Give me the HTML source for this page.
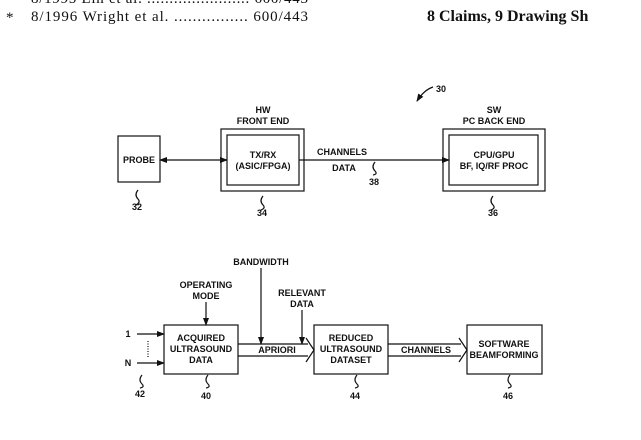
<!DOCTYPE html>
<html><head><meta charset="utf-8"><style>
body{margin:0;background:#fff;width:641px;height:435px;overflow:hidden}
svg text{font-family:"Liberation Sans",sans-serif;font-size:9px;font-weight:bold;fill:#111;text-anchor:middle}
.s{font-family:"Liberation Serif",serif;font-size:15px;font-weight:normal;text-anchor:start}
</style></head><body>
<svg width="641" height="435" viewBox="0 0 641 435">
<defs><marker id="a" markerWidth="8" markerHeight="6" refX="7" refY="3" orient="auto" markerUnits="userSpaceOnUse"><path d="M0,0 L8,3 L0,6z" fill="#111"/></marker>
<marker id="b" markerWidth="8" markerHeight="6" refX="1" refY="3" orient="auto" markerUnits="userSpaceOnUse"><path d="M8,0 L0,3 L8,6z" fill="#111"/></marker></defs>
<text class="s" x="31" y="3" textLength="277" lengthAdjust="spacing">8/1995  Lin et al.  .......................  600/443</text>
<text class="s" x="6" y="22">*</text>
<text class="s" x="31" y="21" textLength="277" lengthAdjust="spacing">8/1996  Wright et al.  ................  600/443</text>
<text class="s" x="427" y="21" style="font-weight:bold;font-size:16px">8 Claims, 9 Drawing Sh</text>
<g fill="none" stroke="#111" stroke-width="1.2">
<rect x="118" y="136" width="42" height="46"/>
<rect x="221" y="129" width="83" height="62"/><rect x="227" y="135" width="72" height="50"/>
<rect x="443" y="129" width="102" height="62"/><rect x="449" y="135" width="89" height="50"/>
<line x1="160" y1="160" x2="227" y2="160" marker-start="url(#b)" marker-end="url(#a)"/>
<line x1="299" y1="160" x2="449" y2="160" marker-end="url(#a)"/>
<path d="M433,87 Q424,90 417,101" marker-end="url(#a)"/>
<path d="M138,190 q-4,5 0,9 q3,3 -2,6"/><path d="M263,196 q-4,5 0,9 q3,3 -2,5"/><path d="M493,196 q-4,5 0,9 q3,3 -2,5"/><path d="M375,162 q-4,5 0,9 q3,3 -2,4"/>
<rect x="164" y="325" width="74" height="49"/><rect x="314" y="325" width="74" height="49"/><rect x="467" y="325" width="75" height="49"/>
<path d="M238,344 H308 M238,356 H308 M306,338 L314,350 L306,362"/>
<path d="M388,344 H461 M388,356 H461 M459,338 L467,350 L459,362"/>
<line x1="137" y1="334" x2="164" y2="334" marker-end="url(#a)"/>
<line x1="137" y1="363" x2="164" y2="363" marker-end="url(#a)"/>
<line x1="148" y1="341" x2="148" y2="357" stroke-dasharray="1,1.5"/>
<line x1="206" y1="302" x2="206" y2="325" marker-end="url(#a)"/>
<line x1="261" y1="268" x2="261" y2="344" marker-end="url(#a)"/>
<line x1="302" y1="310" x2="302" y2="344" marker-end="url(#a)"/>
<path d="M142,375 q-4,5 0,9 q3,3 -2,4"/><path d="M208,375 q-4,5 0,9 q3,3 -2,4"/><path d="M357,375 q-4,5 0,9 q3,3 -2,4"/><path d="M510,375 q-4,5 0,9 q3,3 -2,4"/>
</g>
<text x="139" y="163">PROBE</text>
<text x="263" y="113">HW</text><text x="263" y="124">FRONT END</text>
<text x="263" y="158">TX/RX</text><text x="263" y="169">(ASIC/FPGA)</text>
<text x="342" y="155">CHANNELS</text><text x="344" y="171">DATA</text>
<text x="494" y="113">SW</text><text x="494" y="124">PC BACK END</text>
<text x="494" y="158">CPU/GPU</text><text x="494" y="169">BF, IQ/RF PROC</text>
<text x="436" y="92" style="text-anchor:start">30</text>
<text x="137" y="210">32</text><text x="262" y="216">34</text><text x="493" y="216">36</text><text x="374" y="185">38</text>
<text x="261" y="265">BANDWIDTH</text>
<text x="206" y="288">OPERATING</text><text x="206" y="299">MODE</text>
<text x="302" y="296">RELEVANT</text><text x="302" y="307">DATA</text>
<text x="201" y="341">ACQUIRED</text><text x="201" y="352">ULTRASOUND</text><text x="201" y="363">DATA</text>
<text x="351" y="341">REDUCED</text><text x="351" y="352">ULTRASOUND</text><text x="351" y="363">DATASET</text>
<text x="504" y="347">SOFTWARE</text><text x="504" y="358">BEAMFORMING</text>
<text x="277" y="353">APRIORI</text><text x="426" y="353">CHANNELS</text>
<text x="128" y="337">1</text><text x="128" y="366">N</text>
<text x="140" y="397">42</text><text x="206" y="399">40</text><text x="355" y="399">44</text><text x="508" y="399">46</text>
</svg>
</body></html>
